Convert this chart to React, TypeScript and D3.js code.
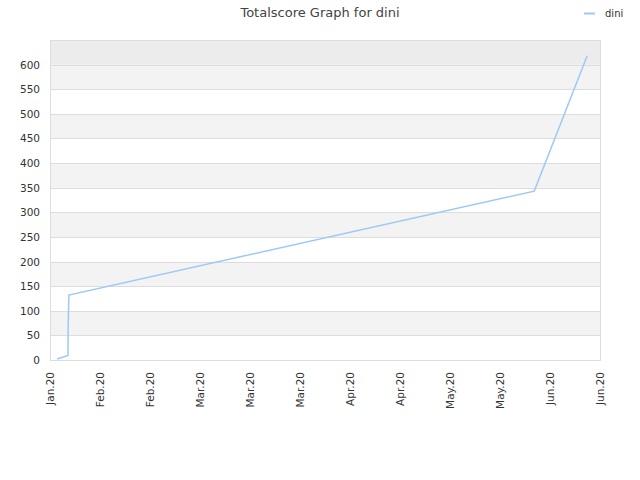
import React from "react";
import * as d3 from "d3";

const title = "Totalscore Graph for dini";
const seriesName = "dini";
const dates = [
  "2020-01-22T00:00",
  "2020-01-25T01:00",
  "2020-01-25T02:00",
  "2020-01-25T07:00",
  "2020-06-03T14:00",
  "2020-06-18T10:00",
];
const scores = [2, 9, 69, 132, 343, 618];
const domainStart = "2020-01-20T00:00";
const domainEnd = "2020-06-22T00:00";
const yTicks = [0, 50, 100, 150, 200, 250, 300, 350, 400, 450, 500, 550, 600];
const yMax = 650;

const W = 640, H = 480;
const L = 50, R = 600, T = 40, B = 360;
const font = "DejaVu Sans, sans-serif";

export default function App() {
  const parse = d3.utcParse("%Y-%m-%dT%H:%M");
  const x = d3.scaleUtc().domain([parse(domainStart)!, parse(domainEnd)!]).range([L, R]);
  const y = d3.scaleLinear().domain([0, yMax]).range([B, T]);
  const xTicks = d3.range(12).map((i) => d3.utcDay.offset(parse(domainStart)!, i * 14));
  const fmt = d3.utcFormat("%b.%y");
  const pts = dates.map((d, i) => [x(parse(d)!), y(scores[i])] as [number, number]);
  const line = d3.line()(pts) || "";
  const bands = d3.range(0, yMax, 50);
  return (
    <svg width={W} height={H} style={{ position: "absolute", left: 0, top: 0 }}>
      <rect x={0} y={0} width={W} height={H} fill="#fff" />
      {bands.map((v) => {
        const top = v + 50 >= yMax;
        const gray = (v / 50) % 2 === 1;
        const fill = top ? "#ececec" : gray ? "#f3f3f3" : "#ffffff";
        return <rect key={v} x={L} y={y(v + 50)} width={R - L} height={y(v) - y(v + 50)} fill={fill} />;
      })}
      {yTicks.map((v) => (
        <line key={v} x1={L} x2={R} y1={Math.round(y(v)) + 0.5} y2={Math.round(y(v)) + 0.5} stroke="#dddddd" />
      ))}
      <rect x={L + 0.5} y={T + 0.5} width={R - L} height={B - T} fill="none" stroke="#dddddd" />
      {yTicks.map((v) => (
        <text key={v} x={40} y={y(v) + 4} textAnchor="end" fontFamily={font} fontSize={10.5} fill="#333">
          {v}
        </text>
      ))}
      {xTicks.map((d, i) => (
        <text
          key={i}
          transform={`translate(${x(d) + 3.5},${372}) rotate(-90)`}
          textAnchor="end"
          fontFamily={font}
          fontSize={10.5}
          fill="#333"
        >
          {fmt(d)}
        </text>
      ))}
      <path d={line} fill="none" stroke="#9ec9f4" strokeWidth={1.5} />
      <text x={320} y={17} textAnchor="middle" fontFamily={font} fontSize={13} fill="#444">
        {title}
      </text>
      <line x1={584} x2={595} y1={13.5} y2={13.5} stroke="#9ec9f4" strokeWidth={2} />
      <text x={605} y={17} fontFamily={font} fontSize={10} fill="#333">
        {seriesName}
      </text>
    </svg>
  );
}
